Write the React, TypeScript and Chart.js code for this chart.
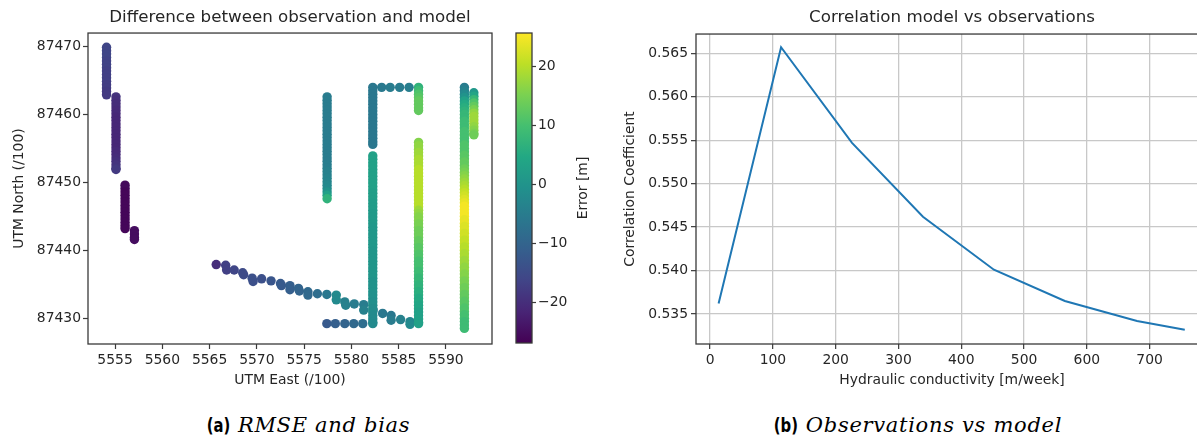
import { useEffect, useRef } from "react";
import { Chart, registerables } from "chart.js";
Chart.register(...registerables);

// ---------------- Left panel: scatter of observation - model error ----------------
const EAST_TICKS = [5555, 5560, 5565, 5570, 5575, 5580, 5585, 5590];
const NORTH_TICKS = [87430, 87440, 87450, 87460, 87470];
const ERR_TICKS = [-20, -10, 0, 10, 20];
const ERR_MIN = -26.8;
const ERR_MAX = 25.7;

// vertical well tracks (easting, northings, errors)
const trackA_east = 5554.1;
const trackA_north = [87469.9, 87469.4, 87468.9, 87468.4, 87467.9, 87467.4, 87466.9, 87466.4, 87465.9, 87465.4, 87464.9, 87464.4, 87463.9, 87463.4, 87462.9];
const trackA_err = [-16, -16, -16, -16, -16.5, -16.5, -16.5, -17, -17, -17, -17, -17.5, -17.5, -18, -18];

const trackB_east = 5555.1;
const trackB_north = [87462.6, 87462.1, 87461.6, 87461.1, 87460.6, 87460.1, 87459.6, 87459.1, 87458.6, 87458.1, 87457.6, 87457.1, 87456.6, 87456.1, 87455.6, 87455.1, 87454.6, 87454.1, 87453.6, 87453.1, 87452.6, 87452.1, 87451.9];
const trackB_err = [-19, -19.5, -20, -20, -20.5, -20.5, -21, -21, -21, -21, -21, -21, -21, -21, -21, -21, -20.5, -20.5, -20, -19.5, -19, -18.5, -18];

const trackC_east = 5556.06;
const trackC_north = [87449.6, 87449.1, 87448.6, 87448.1, 87447.6, 87447.1, 87446.6, 87446.1, 87445.6, 87445.1, 87444.6, 87444.1, 87443.6, 87443.2];
const trackC_err = [-25.5, -25.5, -26, -26, -26, -26, -26, -26, -26, -26, -26, -26, -26, -26];

const trackD_east = 5557.05;
const trackD_north = [87442.9, 87442.4, 87441.9, 87441.6];
const trackD_err = [-25, -25, -25, -25];

const trackE_east = 5577.43;
const trackE_north = [87462.6, 87462.1, 87461.6, 87461.1, 87460.6, 87460.1, 87459.6, 87459.1, 87458.6, 87458.1, 87457.6, 87457.1, 87456.6, 87456.1, 87455.6, 87455.1, 87454.6, 87454.1, 87453.6, 87453.1, 87452.6, 87452.1, 87451.6, 87451.1, 87450.6, 87450.1, 87449.6, 87449.1, 87448.6, 87448.1, 87447.6];
const trackE_err = [-5, -5, -5, -5, -5, -5, -5, -5, -5, -5, -5, -5, -5, -5, -5, -5, -5, -5, -5, -5, -4.5, -4.5, -4, -4, -3.5, -3, -2.5, -2, 0, 3, 7];

const trackF_east = 5582.26;
const trackF_north = [87464.0, 87463.5, 87463.0, 87462.5, 87462.0, 87461.5, 87461.0, 87460.5, 87460.0, 87459.5, 87459.0, 87458.5, 87458.0, 87457.5, 87457.0, 87456.5, 87456.0, 87455.6];
const trackF_err = [-6, -6, -6, -6, -6, -6, -6, -6, -6, -6, -6, -6, -6, -6, -6, -6, -6, -6];

const trackG_east = 5582.26;
const trackG_north = [87453.9, 87453.4, 87452.9, 87452.4, 87451.9, 87451.4, 87450.9, 87450.4, 87449.9, 87449.4, 87448.9, 87448.4, 87447.9, 87447.4, 87446.9, 87446.4, 87445.9, 87445.4, 87444.9, 87444.4, 87443.9, 87443.4, 87442.9, 87442.4, 87441.9, 87441.4, 87440.9, 87440.4, 87439.9, 87439.4, 87438.9, 87438.4, 87437.9, 87437.4, 87436.9, 87436.4, 87435.9, 87435.4, 87434.9, 87434.4, 87433.9, 87433.4, 87432.9, 87432.4, 87431.9, 87431.4, 87430.9, 87430.4, 87429.9, 87429.4, 87429.2];
const trackG_err = [3, 3, 3, 3, 3, 3, 3, 3, 3, 3, 3, 2.5, 2.5, 2.5, 2, 2, 2, 1.5, 1.5, 1.5, 1.5, 1, 1, 1, 1, 1, 1, 1, 0.5, 0.5, 0.5, 0.5, 0.5, 0.5, 0.5, 0.5, 0.5, 0, 0, 0, 0, -0.5, -0.5, -1, -1, -1.5, -1.5, -2, -2, -2, -2];

const trackH_east = [5583.2, 5584.1, 5585.1, 5586.1];
const trackH_north = [87464.0, 87464.0, 87464.0, 87464.0];
const trackH_err = [-5.5, -5, -5, -4.5];

const trackI_east = 5587.1;
const trackI_north = [87464.0, 87463.5, 87463.0, 87462.5, 87462.0, 87461.5, 87461.0, 87460.6];
const trackI_err = [7, 9, 11, 12, 13, 13, 13, 13];

const trackJ_east = 5587.1;
const trackJ_north = [87455.9, 87455.4, 87454.9, 87454.4, 87453.9, 87453.4, 87452.9, 87452.4, 87451.9, 87451.4, 87450.9, 87450.4, 87449.9, 87449.4, 87448.9, 87448.4, 87447.9, 87447.4, 87446.9, 87446.4, 87445.9, 87445.4, 87444.9, 87444.4, 87443.9, 87443.4, 87442.9, 87442.4, 87441.9, 87441.4, 87440.9, 87440.4, 87439.9, 87439.4, 87438.9, 87438.4, 87437.9, 87437.4, 87436.9, 87436.4, 87435.9, 87435.4, 87434.9, 87434.4, 87433.9, 87433.4, 87432.9, 87432.4, 87431.9, 87431.4, 87430.9, 87430.4, 87429.9, 87429.4, 87429.2];
const trackJ_err = [16, 17, 17, 18, 18, 19, 19, 19, 20, 20, 20, 20, 20, 20, 20, 20, 20, 20, 20, 20, 18, 17, 16, 16, 15, 15, 14, 14, 14, 13, 13, 12, 12, 11, 11, 10, 10, 10, 9, 9, 8, 8, 7, 7, 6, 6, 5, 5, 4, 4, 3, 3, 3, 3, 3];

const trackK_east = 5591.95;
const trackK_north = [87464.0, 87463.5, 87463.0, 87462.5, 87462.0, 87461.5, 87461.0, 87460.5, 87460.0, 87459.5, 87459.0, 87458.5, 87458.0, 87457.5, 87457.0, 87456.5, 87456.0, 87455.5, 87455.0, 87454.5, 87454.0, 87453.5, 87453.0, 87452.5, 87452.0, 87451.5, 87451.0, 87450.5, 87450.0, 87449.5, 87449.0, 87448.5, 87448.0, 87447.5, 87447.0, 87446.5, 87446.0, 87445.5, 87445.0, 87444.5, 87444.0, 87443.5, 87443.0, 87442.5, 87442.0, 87441.5, 87441.0, 87440.5, 87440.0, 87439.5, 87439.0, 87438.5, 87438.0, 87437.5, 87437.0, 87436.5, 87436.0, 87435.5, 87435.0, 87434.5, 87434.0, 87433.5, 87433.0, 87432.5, 87432.0, 87431.5, 87431.0, 87430.5, 87430.0, 87429.5, 87429.0, 87428.5];
const trackK_err = [-5, -4, -2, 0, 3, 5, 6, 7, 8, 8, 9, 9, 9, 10, 10, 10, 10, 11, 11, 11, 12, 12, 13, 13, 14, 15, 16, 17, 18, 19, 20, 21, 22, 23, 24, 25, 25, 25, 25, 24, 24, 23, 23, 22, 22, 21, 21, 20, 20, 19, 19, 18, 18, 17, 17, 16, 16, 15, 15, 14, 14, 13, 13, 12, 12, 11, 11, 10, 10, 9, 9, 9];

const trackL_east = 5592.95;
const trackL_north = [87463.2, 87462.7, 87462.2, 87461.7, 87461.2, 87460.7, 87460.2, 87459.7, 87459.2, 87458.7, 87458.2, 87457.7, 87457.2, 87457.0];
const trackL_err = [1, 4, 8, 11, 13, 15, 17, 18, 18, 18, 17, 16, 15, 14];

// slanted transect and bottom row
const diagM_east = [5565.7, 5566.7, 5566.8, 5567.6, 5568.5, 5568.6, 5569.5, 5569.6, 5570.5, 5571.5, 5572.5, 5572.6, 5573.5, 5573.5, 5574.4, 5574.5, 5575.4, 5575.4, 5576.4, 5577.4, 5578.4, 5578.4, 5579.3, 5579.4, 5580.3, 5581.3, 5581.3, 5582.3, 5583.3, 5584.2, 5584.2, 5585.2, 5586.2, 5586.2];
const diagM_north = [87437.9, 87437.8, 87437.1, 87437.1, 87436.7, 87436.4, 87435.9, 87435.4, 87435.8, 87435.5, 87435.1, 87434.8, 87434.8, 87434.2, 87434.4, 87434.0, 87433.9, 87433.4, 87433.6, 87433.5, 87433.4, 87432.7, 87432.4, 87431.9, 87432.1, 87432.0, 87431.2, 87431.2, 87430.7, 87430.4, 87429.7, 87429.8, 87429.5, 87429.1];
const diagM_err = [-20, -17, -17, -16, -15, -15, -14, -14, -14, -13, -12, -12, -11, -11, -10, -10, -9, -9, -8, -6, -2, -2, -4, -4, -5, -5, -4, -5, -6, -6, -5, -4, -3, -2];

const rowN_east = [5577.4, 5578.3, 5579.3, 5580.25, 5581.2];
const rowN_north = [87429.2, 87429.2, 87429.2, 87429.2, 87429.2];
const rowN_err = [-12, -11, -10, -9, -8];

// ---------------- Right panel: correlation vs hydraulic conductivity ----------------
const HK_TICKS = [0, 100, 200, 300, 400, 500, 600, 700];
const CORR_TICKS = [0.535, 0.54, 0.545, 0.55, 0.555, 0.56, 0.565];
const conductivity = [13.5, 113, 226, 339, 452, 565, 680, 756];
const correlation = [0.5362, 0.5657, 0.5547, 0.5462, 0.5401, 0.5365, 0.5342, 0.5332];

// ---------------- styling helpers ----------------
const VIRIDIS = ["#440154", "#482475", "#414487", "#355f8d", "#2a788e", "#21918c", "#22a884", "#44bf70", "#7ad151", "#bddf26", "#fde725"];
const FONT = "'DejaVu Sans', 'Liberation Sans', sans-serif";
const TXT = "#262626";
const SPINE = "#3a3a3a";

function hex(h: string) {
  return [parseInt(h.slice(1, 3), 16), parseInt(h.slice(3, 5), 16), parseInt(h.slice(5, 7), 16)];
}
function viridis(t: number) {
  const c = Math.max(0, Math.min(1, t)) * 10;
  const i = Math.min(9, Math.floor(c));
  const f = c - i;
  const a = hex(VIRIDIS[i]);
  const b = hex(VIRIDIS[i + 1]);
  const m = a.map((v, k) => Math.round(v + (b[k] - v) * f));
  return `rgb(${m[0]},${m[1]},${m[2]})`;
}
function errColor(e: number) {
  return viridis((e - ERR_MIN) / (ERR_MAX - ERR_MIN));
}
const column = (east: number, north: number[], err: number[]) => north.map((y, i) => ({ x: east, y, e: err[i] }));
const scatter = (east: number[], north: number[], err: number[]) => east.map((x, i) => ({ x, y: north[i], e: err[i] }));
const minus = (v: number) => (v < 0 ? "\u2212" + Math.abs(v) : String(v));

const boxPlugin = {
  id: "box",
  afterDraw(chart: any) {
    const { ctx, chartArea: a } = chart;
    ctx.save();
    ctx.strokeStyle = SPINE;
    ctx.lineWidth = 1.3;
    ctx.strokeRect(a.left, a.top, a.right - a.left, a.bottom - a.top);
    ctx.restore();
  },
};

const tickFont = { family: FONT, size: 13.9 };
const labelFont = { family: FONT, size: 13.9 };
const titleFont = { family: FONT, size: 16.7, weight: "normal" as const };

function useChart(ref: any, make: () => any) {
  useEffect(() => {
    const chart = new Chart(ref.current, make());
    return () => chart.destroy();
  }, []);
}

export default function App() {
  const leftRef = useRef<HTMLCanvasElement>(null);
  const cbRef = useRef<HTMLCanvasElement>(null);
  const rightRef = useRef<HTMLCanvasElement>(null);

  useChart(leftRef, () => {
    const sets = [
      column(trackA_east, trackA_north, trackA_err),
      column(trackB_east, trackB_north, trackB_err),
      column(trackC_east, trackC_north, trackC_err),
      column(trackD_east, trackD_north, trackD_err),
      column(trackE_east, trackE_north, trackE_err),
      column(trackF_east, trackF_north, trackF_err),
      column(trackG_east, trackG_north, trackG_err),
      scatter(trackH_east, trackH_north, trackH_err),
      column(trackI_east, trackI_north, trackI_err),
      column(trackJ_east, trackJ_north, trackJ_err),
      column(trackK_east, trackK_north, trackK_err),
      column(trackL_east, trackL_north, trackL_err),
      scatter(diagM_east, diagM_north, diagM_err),
      scatter(rowN_east, rowN_north, rowN_err),
    ];
    return {
      type: "scatter",
      data: {
        datasets: sets.map((d) => ({
          data: d,
          pointRadius: 4.7,
          pointBorderWidth: 0,
          pointBackgroundColor: (c: any) => errColor(c.raw ? c.raw.e : 0),
        })),
      },
      options: {
        responsive: false,
        animation: false,
        events: [],
        layout: { padding: { left: 0, right: 8, top: 0, bottom: 0 } },
        plugins: {
          legend: { display: false },
          tooltip: { enabled: false },
          title: {
            display: true,
            text: "Difference between observation and model",
            color: TXT,
            font: titleFont,
            fullSize: false,
            padding: { top: 8, bottom: 5 },
          },
        },
        scales: {
          x: {
            type: "linear",
            min: 5552.14,
            max: 5594.87,
            afterBuildTicks: (s: any) => (s.ticks = EAST_TICKS.map((v) => ({ value: v }))),
            afterFit: (s: any) => (s.height = 56),
            border: { display: false },
            grid: { drawOnChartArea: false, drawTicks: true, tickLength: 5, tickColor: SPINE, tickWidth: 1.2 },
            ticks: { color: TXT, font: tickFont, padding: 3, autoSkip: false, maxRotation: 0, callback: (v: any) => String(v) },
            title: { display: true, text: "UTM East (/100)", color: TXT, font: labelFont, padding: { top: 0, bottom: 11.6 } },
          },
          y: {
            type: "linear",
            min: 87426.2,
            max: 87472.0,
            afterBuildTicks: (s: any) => (s.ticks = NORTH_TICKS.map((v) => ({ value: v }))),
            afterFit: (s: any) => (s.width = 88),
            border: { display: false },
            grid: { drawOnChartArea: false, drawTicks: true, tickLength: 5, tickColor: SPINE, tickWidth: 1.2 },
            ticks: { color: TXT, font: tickFont, padding: 2, autoSkip: false, callback: (v: any) => String(v) },
            title: { display: true, text: "UTM North (/100)", color: TXT, font: labelFont, padding: { top: 10.6, bottom: 0 } },
          },
        },
      },
      plugins: [boxPlugin],
    };
  });

  useChart(cbRef, () => ({
    type: "bar",
    data: {
      labels: [""],
      datasets: [
        {
          data: [[ERR_MIN, ERR_MAX]],
          barPercentage: 1,
          categoryPercentage: 1,
          borderWidth: 0,
          backgroundColor: (c: any) => {
            const a = c.chart.chartArea;
            if (!a) return VIRIDIS[5];
            const g = c.chart.ctx.createLinearGradient(0, a.bottom, 0, a.top);
            VIRIDIS.forEach((col, i) => g.addColorStop(i / 10, col));
            return g;
          },
        },
      ],
    },
    options: {
      responsive: false,
      animation: false,
      events: [],
      layout: { padding: { left: 16, right: 0, top: 33, bottom: 57 } },
      plugins: { legend: { display: false }, tooltip: { enabled: false }, title: { display: false } },
      scales: {
        x: { display: false },
        y: {
          position: "right",
          min: ERR_MIN,
          max: ERR_MAX,
          afterBuildTicks: (s: any) => (s.ticks = ERR_TICKS.map((v) => ({ value: v }))),
          afterFit: (s: any) => (s.width = 78),
          border: { display: false },
          grid: { drawOnChartArea: false, drawTicks: true, tickLength: 4, tickColor: SPINE, tickWidth: 1.2 },
          ticks: { color: TXT, font: tickFont, padding: 2, callback: (v: any) => minus(v) },
        },
      },
    },
    plugins: [
      boxPlugin,
      {
        id: "cblabel",
        afterDraw(chart: any) {
          const { ctx, chartArea: a } = chart;
          ctx.save();
          ctx.translate(83.3, (a.top + a.bottom) / 2);
          ctx.rotate(-Math.PI / 2);
          ctx.font = `13.9px ${FONT}`;
          ctx.fillStyle = TXT;
          ctx.textAlign = "center";
          ctx.textBaseline = "middle";
          ctx.fillText("Error [m]", 0, 0);
          ctx.restore();
        },
      },
    ],
  }));

  useChart(rightRef, () => ({
    type: "line",
    data: {
      datasets: [
        {
          data: conductivity.map((x, i) => ({ x, y: correlation[i] })),
          borderColor: "#1f77b4",
          borderWidth: 2,
          pointRadius: 0,
          tension: 0,
          fill: false,
        },
      ],
    },
    options: {
      responsive: false,
      animation: false,
      events: [],
      layout: { padding: { left: 0, right: 22, top: 0, bottom: 0 } },
      plugins: {
        legend: { display: false },
        tooltip: { enabled: false },
        title: {
          display: true,
          text: "Correlation model vs observations",
          color: TXT,
          font: titleFont,
          fullSize: false,
          padding: { top: 8, bottom: 6 },
        },
      },
      scales: {
        x: {
          type: "linear",
          min: -22.5,
          max: 793,
          afterBuildTicks: (s: any) => (s.ticks = HK_TICKS.map((v) => ({ value: v }))),
          afterFit: (s: any) => (s.height = 56),
          border: { display: false },
          grid: { color: "#c8c8c8", lineWidth: 1.3, drawTicks: true, tickLength: 5, tickColor: SPINE, tickWidth: 1.2 },
          ticks: { color: TXT, font: tickFont, padding: 3, autoSkip: false, maxRotation: 0, callback: (v: any) => String(v) },
          title: { display: true, text: "Hydraulic conductivity [m/week]", color: TXT, font: labelFont, padding: { top: 0, bottom: 11.6 } },
        },
        y: {
          type: "linear",
          min: 0.53155,
          max: 0.56722,
          afterBuildTicks: (s: any) => (s.ticks = CORR_TICKS.map((v) => ({ value: v }))),
          afterFit: (s: any) => (s.width = 86),
          border: { display: false },
          grid: { color: "#c8c8c8", lineWidth: 1.3, drawTicks: true, tickLength: 5, tickColor: SPINE, tickWidth: 1.2 },
          ticks: { color: TXT, font: tickFont, padding: 3, autoSkip: false, callback: (v: any) => Number(v).toFixed(3) },
          title: { display: true, text: "Correlation Coefficient", color: TXT, font: labelFont, padding: { top: 11.6, bottom: 0 } },
        },
      },
    },
    plugins: [boxPlugin],
  }));

  const capBold: any = {
    display: "inline-block",
    fontFamily: "'DejaVu Sans', sans-serif",
    fontWeight: "bold",
    fontStyle: "normal",
    fontSize: 19,
    transform: "scaleX(0.78)",
    transformOrigin: "right center",
    marginRight: 8,
  };
  const capIt: any = {
    fontFamily: "'DejaVu Serif', 'Liberation Serif', serif",
    fontStyle: "italic",
    fontSize: 21,
    letterSpacing: "0.7px",
  };
  const capBox: any = {
    position: "absolute",
    top: 412,
    height: 26,
    lineHeight: "26px",
    color: "#000",
    textAlign: "center",
    whiteSpace: "nowrap",
  };

  return (
    <div style={{ position: "fixed", left: 0, top: 0, width: 1197, height: 437, overflow: "hidden", background: "#fff" }}>
      <canvas ref={leftRef} width={500} height={400} style={{ position: "absolute", left: 0, top: 0, width: 500, height: 400 }} />
      <canvas ref={cbRef} width={110} height={400} style={{ position: "absolute", left: 500, top: 0, width: 110, height: 400 }} />
      <canvas ref={rightRef} width={620} height={400} style={{ position: "absolute", left: 610, top: 0, width: 620, height: 400 }} />
      <div style={{ ...capBox, left: 0, width: 610 }}>
        <span style={capBold}>(a)</span>
        <span style={capIt}>RMSE and bias</span>
      </div>
      <div style={{ ...capBox, left: 632, width: 565 }}>
        <span style={capBold}>(b)</span>
        <span style={capIt}>Observations vs model</span>
      </div>
    </div>
  );
}
